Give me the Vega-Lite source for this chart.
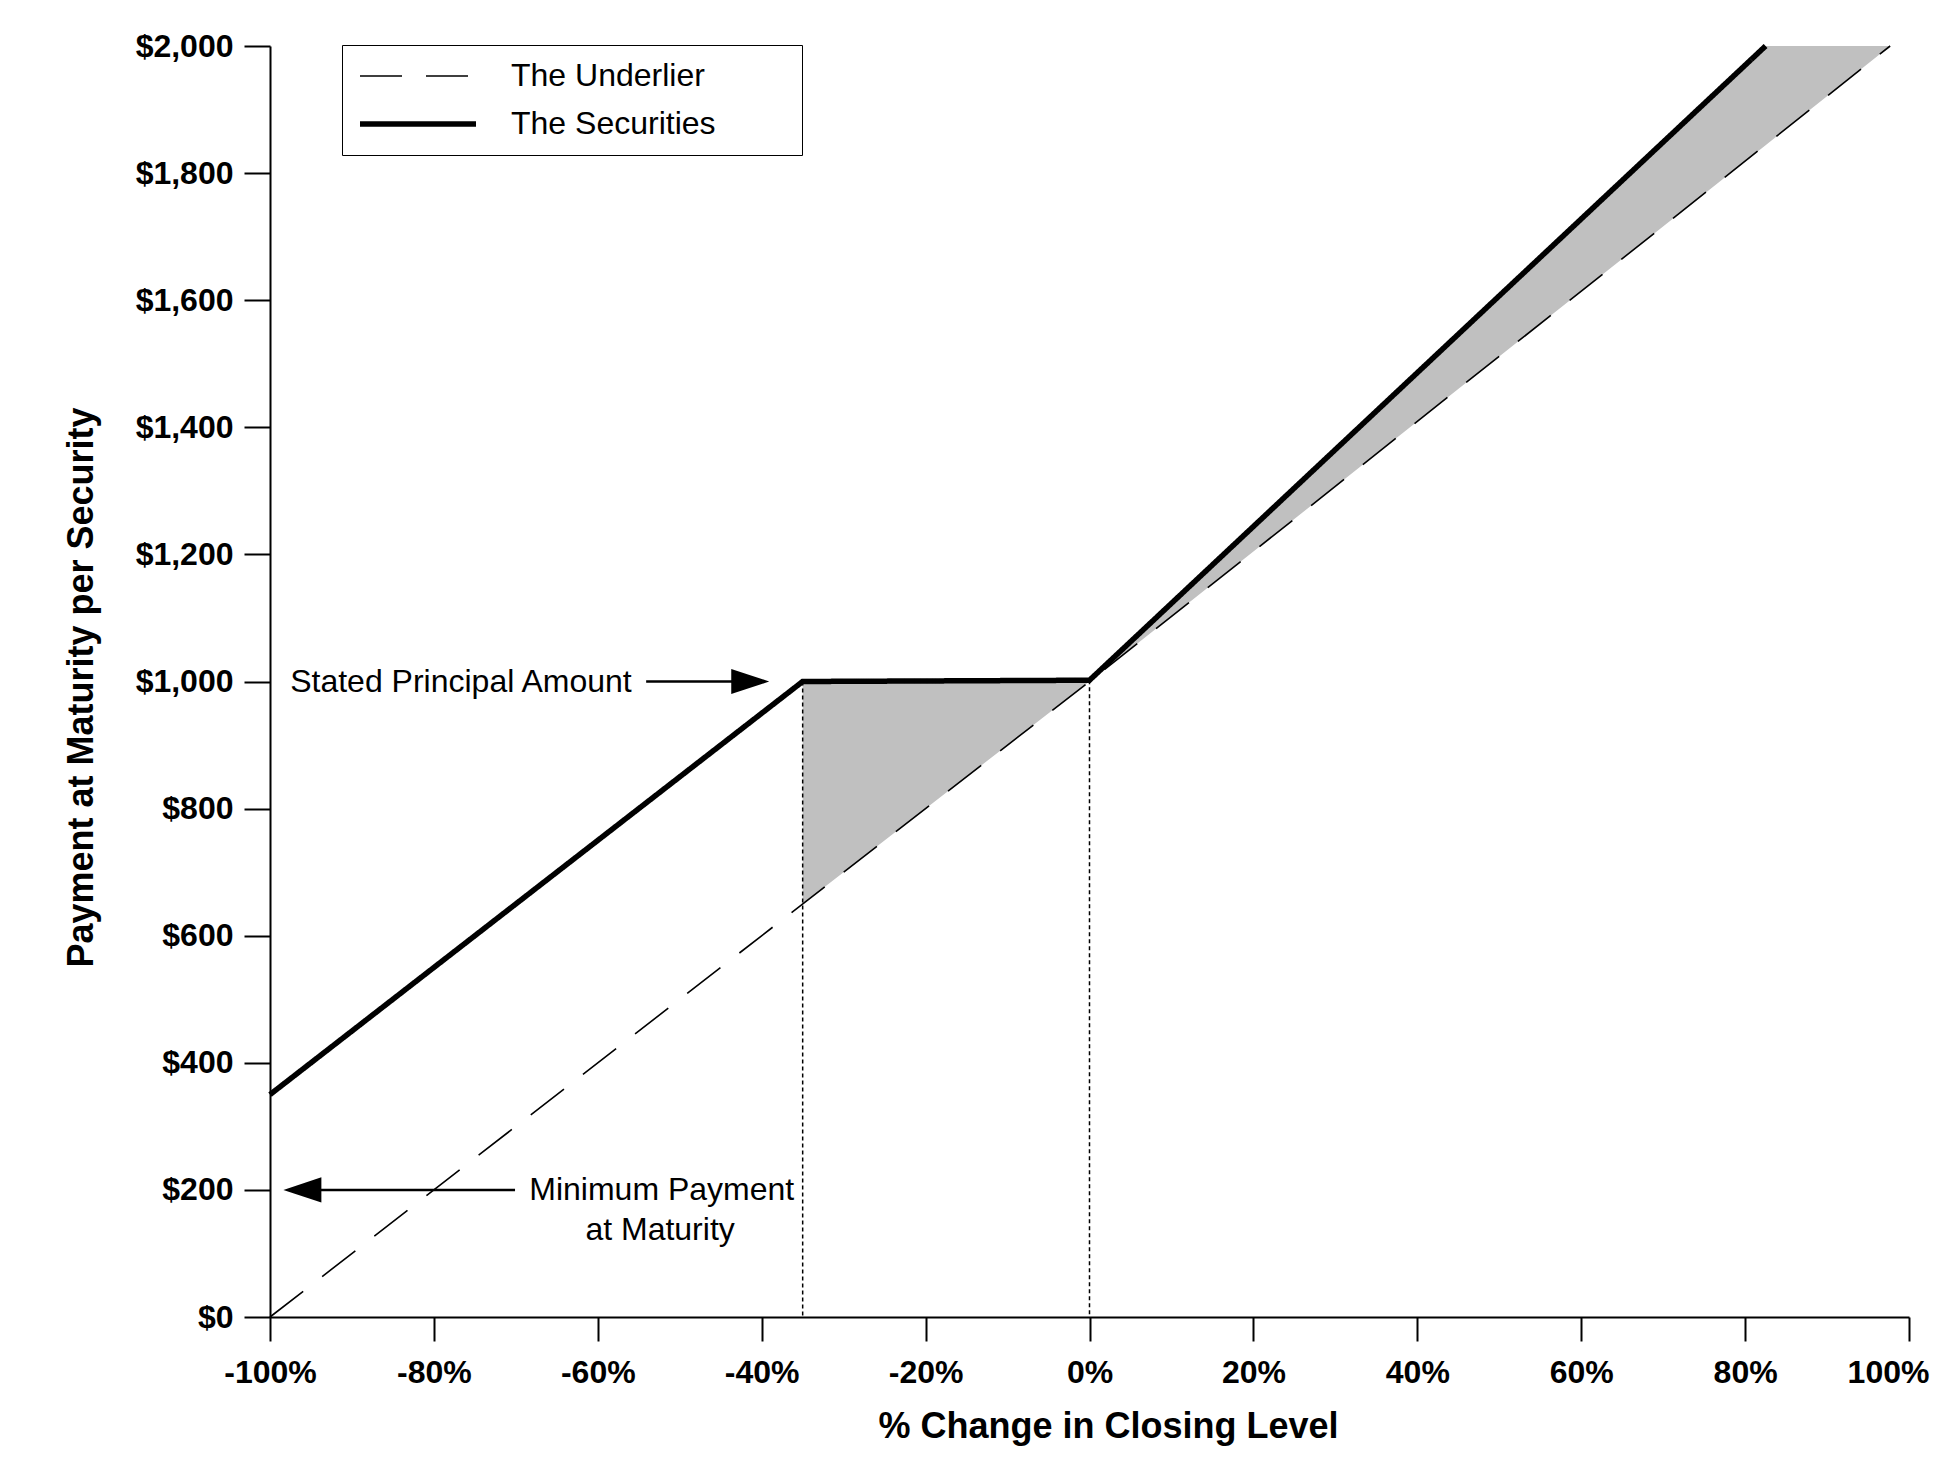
{
  "$schema": "https://vega.github.io/schema/vega-lite/v6.json",
  "width": 1639,
  "height": 1271,
  "autosize": {"type": "none"},
  "padding": {"left": 270, "top": 46, "right": 34, "bottom": 152},
  "background": "white",
  "config": {
    "font": "Liberation Sans",
    "view": {"stroke": null},
    "axis": {
      "labelFont": "Liberation Sans",
      "titleFont": "Liberation Sans",
      "labelColor": "black",
      "titleColor": "black",
      "tickColor": "black",
      "domainColor": "black",
      "grid": false
    }
  },
  "datasets": {
    "lines": [
      {"pct": -100, "payment": 0, "series": "The Underlier"},
      {"pct": 0, "payment": 1000, "series": "The Underlier"},
      {"pct": 97.7, "payment": 2000, "series": "The Underlier"},
      {"pct": -100, "payment": 350, "series": "The Securities"},
      {"pct": -35, "payment": 1000, "series": "The Securities"},
      {"pct": 0, "payment": 1002, "series": "The Securities"},
      {"pct": 82.5, "payment": 2000, "series": "The Securities"}
    ],
    "band": [
      {"pct": -35, "payment": 1000, "lower": 650},
      {"pct": 0, "payment": 1002, "lower": 1000},
      {"pct": 82.5, "payment": 2000, "lower": 1844},
      {"pct": 97.7, "payment": 2000, "lower": 2000}
    ],
    "guides": [
      {"pct": -35, "payment": 1000, "base": 0},
      {"pct": 0, "payment": 1002, "base": 0}
    ],
    "shafts": [
      {"pct": -54.1, "pct2": -42.5, "payment": 1000},
      {"pct": -70.1, "pct2": -95, "payment": 200}
    ],
    "heads": [
      {"pct": -41.4, "payment": 1000, "dir": "right"},
      {"pct": -96.05, "payment": 200, "dir": "left"}
    ],
    "notes": [
      {"pct": -76.7, "payment": 1000, "text": "Stated Principal Amount"},
      {"pct": -52.2, "payment": 200, "text": "Minimum Payment"},
      {"pct": -52.4, "payment": 137, "text": "at Maturity"}
    ]
  },
  "encoding": {
    "x": {
      "field": "pct",
      "type": "quantitative",
      "scale": {"domain": [-100, 100], "nice": false, "zero": false},
      "axis": {
        "title": "% Change in Closing Level",
        "values": [-100, -80, -60, -40, -20, 0, 20, 40, 60, 80, 100],
        "labelExpr": "datum.value + '%'",
        "tickSize": 24,
        "tickWidth": 2,
        "domainWidth": 2,
        "labelFontSize": 32,
        "labelFontWeight": "bold",
        "labelBaseline": "alphabetic",
        "labelPadding": 41,
        "labelDx": 9,
        "labelOffset": {"condition": {"test": "datum.value == 100", "value": -21}, "value": 0},
        "labelFlush": false,
        "labelOverlap": false,
        "titleFontSize": 36,
        "titleFontWeight": "bold",
        "titleX": 838,
        "titleY": 120,
        "titleBaseline": "alphabetic",
        "titleAlign": "center"
      }
    },
    "y": {
      "field": "payment",
      "type": "quantitative",
      "scale": {"domain": [0, 2000], "nice": false},
      "axis": {
        "title": "Payment at Maturity per Security",
        "values": [0, 200, 400, 600, 800, 1000, 1200, 1400, 1600, 1800, 2000],
        "format": "$,.0f",
        "tickSize": 26,
        "tickWidth": 2,
        "domainWidth": 2,
        "labelFontSize": 32,
        "labelFontWeight": "bold",
        "labelPadding": 11,
        "labelBaseline": "middle",
        "labelFlush": false,
        "labelOverlap": false,
        "titleFontSize": 36,
        "titleFontWeight": "bold",
        "titleX": -178,
        "titleY": 641,
        "titleAngle": -90,
        "titleBaseline": "alphabetic",
        "titleAlign": "center"
      }
    }
  },
  "layer": [
    {
      "data": {"name": "band"},
      "mark": {"type": "area", "color": "#c0c0c0", "opacity": 1},
      "encoding": {"y2": {"field": "lower"}}
    },
    {
      "data": {"name": "guides"},
      "mark": {"type": "rule", "color": "black", "strokeDash": [4, 3], "strokeWidth": 1.5},
      "encoding": {"y2": {"field": "base"}}
    },
    {
      "data": {"name": "lines"},
      "mark": {"type": "line", "color": "black", "strokeCap": "butt"},
      "encoding": {
        "strokeDash": {
          "field": "series",
          "type": "nominal",
          "scale": {"domain": ["The Underlier", "The Securities"], "range": [[42, 24], [1, 0]]},
          "legend": {
            "title": null,
            "orient": "none",
            "legendX": 72,
            "legendY": -1,
            "fillColor": "white",
            "strokeColor": "black",
            "padding": 15,
            "symbolType": "stroke",
            "symbolSize": 13456,
            "symbolStrokeColor": "black",
            "clipHeight": 32,
            "rowPadding": 16,
            "labelOffset": 32,
            "labelFont": "Liberation Sans",
            "labelFontSize": 32,
            "labelColor": "black",
            "labelLimit": 0,
            "labelExpr": "datum.label + '\u00a0\u00a0\u00a0\u00a0\u00a0\u00a0\u00a0\u00a0\u200b'"
          }
        },
        "strokeWidth": {
          "field": "series",
          "type": "nominal",
          "scale": {"type": "ordinal", "domain": ["The Underlier", "The Securities"], "range": [1.6, 5.5]},
          "legend": {
            "title": null,
            "orient": "none",
            "legendX": 72,
            "legendY": -1,
            "fillColor": "white",
            "strokeColor": "black",
            "padding": 15,
            "symbolType": "stroke",
            "symbolSize": 13456,
            "symbolStrokeColor": "black",
            "clipHeight": 32,
            "rowPadding": 16,
            "labelOffset": 32,
            "labelFont": "Liberation Sans",
            "labelFontSize": 32,
            "labelColor": "black",
            "labelLimit": 0,
            "labelExpr": "datum.label + '\u00a0\u00a0\u00a0\u00a0\u00a0\u00a0\u00a0\u00a0\u200b'"
          }
        }
      }
    },
    {
      "data": {"name": "shafts"},
      "mark": {"type": "rule", "color": "black", "strokeWidth": 2.5},
      "encoding": {"x2": {"field": "pct2"}}
    },
    {
      "data": {"name": "heads"},
      "mark": {"type": "point", "filled": true, "color": "black", "size": 1444, "strokeWidth": 0, "opacity": 1},
      "encoding": {
        "shape": {
          "field": "dir",
          "type": "nominal",
          "scale": {"domain": ["right", "left"], "range": ["M-1,-0.66L1,0L-1,0.66Z", "M1,-0.66L-1,0L1,0.66Z"]},
          "legend": null
        }
      }
    },
    {
      "data": {"name": "notes"},
      "mark": {"type": "text", "font": "Liberation Sans", "fontSize": 32, "align": "center", "baseline": "middle", "color": "black"},
      "encoding": {"text": {"field": "text", "type": "nominal"}}
    }
  ]
}
